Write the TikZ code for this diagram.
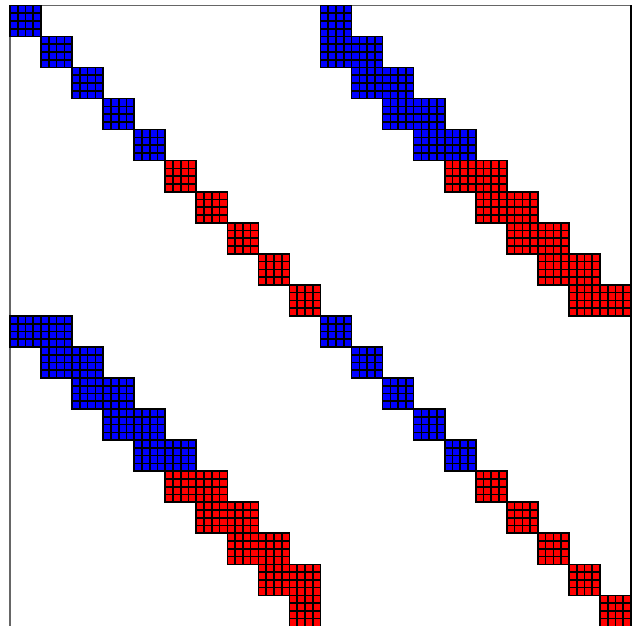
\documentclass[tikz,border=0pt]{standalone}
\usepackage{tikz}

\tikzset{cellline/.style={line width=1.2pt}}

% one 4x4 block: column, row (from the top), colour
\newcommand{\bloc}[3]{%
  \fill[#3] ({4*#1},{76-4*#2}) rectangle ++(4,4);
  \foreach \t in {1,2,3} {
    \draw[cellline] ({4*#1+\t},{76-4*#2}) -- ++(0,4);
    \draw[cellline] ({4*#1},{76-4*#2+\t}) -- ++(4,0);
  }
  \draw[cellline] ({4*#1},{76-4*#2}) rectangle ++(4,4);
}

\begin{document}
\begin{tikzpicture}[scale=0.2]

\useasboundingbox (-1.29,0.12) rectangle (80.9,80.7);

% Cadre
\draw[black!60,line width=1pt] (0,0) rectangle (80,80);
\draw[black,line width=1pt] (80,0) -- (80,80);

% Diagonal blocks
\foreach \k in {0,10} {
  \foreach \j in {0,...,4} {
    \pgfmathtruncatemacro\i{\k+\j}
    \bloc{\i}{\i}{blue}
    \pgfmathtruncatemacro\i{\k+\j+5}
    \bloc{\i}{\i}{red}
  }
}

% Off-diagonal bands
\foreach \r in {0,...,9} {
  \ifnum\r<5 \def\col{blue}\else\def\col{red}\fi
  % upper right
  \pgfmathtruncatemacro\ca{\r+10}
  \bloc{\ca}{\r}{\col}
  \ifnum\r>0 \pgfmathtruncatemacro\cb{\r+9}\bloc{\cb}{\r}{\col}\fi
  % lower left
  \pgfmathtruncatemacro\ra{\r+10}
  \bloc{\r}{\ra}{\col}
  \ifnum\r<9 \pgfmathtruncatemacro\cb{\r+1}\bloc{\cb}{\ra}{\col}\fi
}

\end{tikzpicture}
\end{document}
